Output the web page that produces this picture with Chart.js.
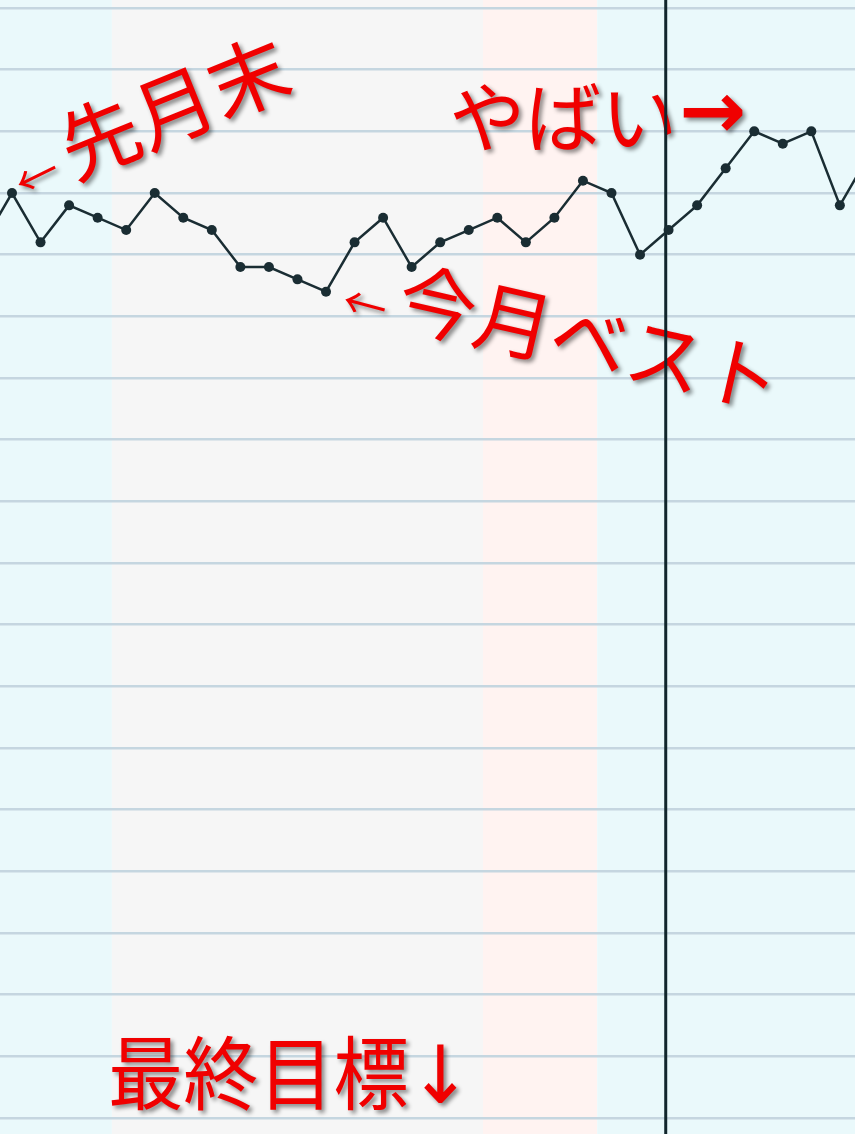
<!DOCTYPE html>
<html lang="ja">
<head>
<meta charset="utf-8">
<title>体重グラフ</title>
<script src="https://cdn.jsdelivr.net/npm/chart.js@4.4.1/dist/chart.umd.min.js"></script>
<style>
    html, body { margin: 0; padding: 0; background: #fff; }
    #wrap { width: 855px; height: 1134px; position: relative; }
</style>
</head>
<body>
<div id="wrap"><canvas id="weightChart"></canvas></div>
<script>
// day index (0 = day before the visible range)
const days = [0, 1, 2, 3, 4, 5, 6, 7, 8, 9, 10, 11, 12, 13, 14, 15,
              16, 17, 18, 19, 20, 21, 22, 23, 24, 25, 26, 27, 28, 29, 30, 31];
// weight in kg
const weights = [58.1, 58.5, 58.1, 58.4, 58.3, 58.2, 58.5, 58.3, 58.2, 57.9, 57.9, 57.8,
                 57.7, 58.1, 58.3, 57.9, 58.1, 58.2, 58.3, 58.1, 58.3, 58.6, 58.5, 58.0,
                 58.2, 58.4, 58.7, 59.0, 58.9, 59.0, 58.4, 58.8];
// period boundaries (day index)
const periodEdges = [0.58, 4.5, 17.5, 21.5, 30.53];
const todayIndex = 23.9;
// y axis
const yMin = 50.871;
const yMax = 60.065;
const yStep = 0.5;

const periodColors = ['#eaf9fb', '#f6f6f6', '#fff3f1', '#eaf9fb'];

const RED = '#f00000';
const CJK = '"Noto Sans CJK JP", "Noto Sans CJK SC", sans-serif';
const ARROWFONT = '"DejaVu Sans", "Noto Sans CJK JP", sans-serif';

// Background bands for each period
const bandsPlugin = {
    id: 'bands',
    beforeDraw(chart) {
        const { ctx, chartArea, scales } = chart;
        ctx.save();
        for (let i = 0; i < periodEdges.length - 1; i++) {
            const x0 = scales.x.getPixelForValue(periodEdges[i]);
            const x1 = scales.x.getPixelForValue(periodEdges[i + 1]);
            ctx.fillStyle = periodColors[i];
            ctx.fillRect(x0, chartArea.top, x1 - x0, chartArea.bottom - chartArea.top);
        }
        ctx.restore();
    }
};

// Draw one red label with shadow, returns its width
function drawLabel(ctx, text, x, y, opts) {
    ctx.save();
    ctx.translate(x, y);
    ctx.rotate((opts.rot || 0) * Math.PI / 180);
    if (opts.scaleX) ctx.scale(opts.scaleX, 1);
    ctx.font = (opts.weight || 'normal') + ' ' + opts.size + 'px ' + (opts.font || CJK);
    ctx.textAlign = opts.align || 'center';
    ctx.textBaseline = 'middle';
    ctx.shadowColor = 'rgba(0, 0, 0, 0.45)';
    ctx.shadowBlur = 4;
    ctx.shadowOffsetX = 3;
    ctx.shadowOffsetY = 3;
    ctx.fillStyle = RED;
    ctx.fillText(text, 0, 0);
    const w = ctx.measureText(text).width;
    ctx.restore();
    return w;
}

// Annotations and today line
const notesPlugin = {
    id: 'notes',
    beforeDatasetsDraw(chart) {
        const { ctx, chartArea, scales } = chart;
        const px = i => scales.x.getPixelForValue(days[i]);
        const py = i => scales.y.getPixelForValue(weights[i]);

        // 先月末 (last month end, day 1)
        drawLabel(ctx, '←', px(1) + 25, py(1) - 17, { size: 44, rot: -26 });
        drawLabel(ctx, '先月末', px(1) + 162, py(1) - 86, { size: 80, rot: -22 });

        // 今月ベスト (best of this month, day 12)
        drawLabel(ctx, '←', px(12) + 39, py(12) + 13, { size: 44, rot: 15 });
        drawLabel(ctx, '今月ベスト', px(12) + 264, py(12) + 47, { size: 78, rot: 13 });

        // やばい (peak, day 27)
        const w = drawLabel(ctx, 'やばい', px(27) - 305, py(27) - 14, { size: 76, align: 'left' });
        drawLabel(ctx, '→', px(27) - 305 + w + 2, py(27) - 14, { size: 80, align: 'left', font: ARROWFONT, weight: 'bold' });

        // 最終目標 (final goal, below the chart)
        drawLabel(ctx, '最終目標↓', chartArea.left + 108, chartArea.bottom - 52, { size: 80, align: 'left', font: ARROWFONT, scaleX: 0.94 });

        // today line
        const tx = scales.x.getPixelForValue(todayIndex);
        ctx.save();
        ctx.strokeStyle = '#12262c';
        ctx.lineWidth = 3;
        ctx.beginPath();
        ctx.moveTo(tx, chartArea.top);
        ctx.lineTo(tx, chartArea.bottom);
        ctx.stroke();
        ctx.restore();
    }
};

const ctx = document.getElementById('weightChart').getContext('2d');
new Chart(ctx, {
    type: 'line',
    data: {
        datasets: [{
            label: '体重',
            data: days.map((d, i) => ({ x: d, y: weights[i] })),
            borderColor: '#1a2d33',
            backgroundColor: '#1a2d33',
            borderWidth: 2.5,
            pointRadius: 5,
            pointHoverRadius: 5,
            pointBackgroundColor: '#1a2d33',
            pointBorderWidth: 0,
            tension: 0
        }]
    },
    options: {
        responsive: true,
        maintainAspectRatio: false,
        animation: false,
        layout: { padding: 0, autoPadding: false },
        plugins: {
            legend: { display: false },
            tooltip: { enabled: false }
        },
        scales: {
            x: {
                type: 'linear',
                display: false,
                min: periodEdges[0],
                max: periodEdges[periodEdges.length - 1]
            },
            y: {
                type: 'linear',
                min: yMin,
                max: yMax,
                border: { display: false },
                ticks: {
                    display: false,
                    stepSize: yStep,
                    includeBounds: false
                },
                grid: {
                    color: '#c5d6e0',
                    lineWidth: 2.5,
                    drawTicks: false
                }
            }
        }
    },
    plugins: [bandsPlugin, notesPlugin]
});
</script>
</body>
</html>
